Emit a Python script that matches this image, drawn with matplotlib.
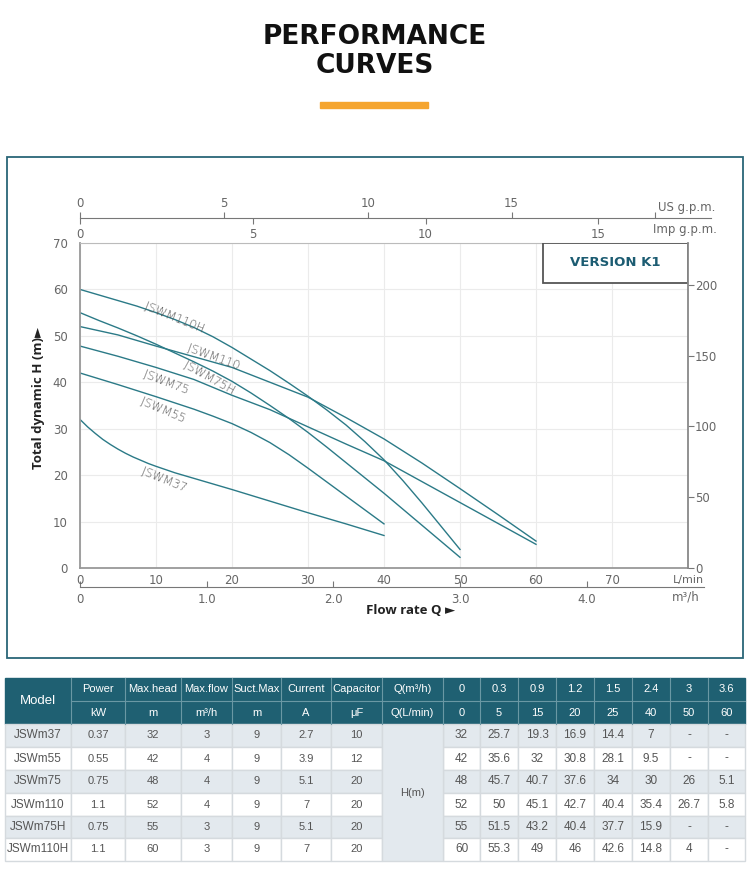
import matplotlib.pyplot as plt
from matplotlib.patches import Rectangle

# head curves: flow in L/min, head in m
q_37 = [0, 1, 2, 3, 4, 5, 6, 7, 8, 9, 10, 12.5, 15, 20, 25, 30, 35, 40]
h_37 = [32, 30.4, 29.0, 27.7, 26.6, 25.6, 24.7, 23.9, 23.2, 22.5, 21.9, 20.5,
        19.3, 16.9, 14.4, 11.9, 9.5, 7]
q_55 = [0, 5, 10, 15, 17.5, 20, 22.5, 25, 27.5, 30, 32.5, 35, 37.5, 40]
h_55 = [42, 39.5, 36.9, 34.2, 32.7, 31.1, 29.2, 27.0, 24.4, 21.5, 18.5, 15.5, 12.5, 9.5]
q_75 = [0, 5, 10, 15, 20, 25, 30, 35, 40, 45, 50, 55, 60]
h_75 = [47.8, 45.6, 43.2, 40.6, 37.2, 34.1, 30.4, 26.7, 23.1, 18.6, 14.1, 9.6, 5.1]
q_110 = [0, 5, 10, 15, 20, 25, 30, 35, 40, 45, 50, 55, 60]
h_110 = [52, 50.2, 47.8, 45.5, 43.2, 40, 36.8, 32.4, 27.8, 22.6, 17.1, 11.5, 5.8]
q_75h = [0, 2.5, 5, 7.5, 10, 12.5, 15, 17.5, 20, 22.5, 25, 27.5, 30, 32.5, 35,
         37.5, 40, 45, 50]
h_75h = [55, 53.3, 51.7, 50.0, 48.2, 46.3, 44.4, 42.4, 40.2, 37.7, 35.0, 32.2,
         29.2, 26.0, 22.7, 19.4, 16.1, 9.2, 2.3]
q_110h = [0, 2.5, 5, 7.5, 10, 12.5, 15, 17.5, 20, 22.5, 25, 27.5, 30, 32.5, 35,
          37.5, 40, 42.5, 45, 47.5, 50]
h_110h = [60, 58.8, 57.6, 56.4, 55, 53.5, 51.8, 49.8, 47.5, 45.0, 42.5, 39.8,
          37, 34, 30.8, 27.2, 23.3, 18.8, 14, 9.0, 4]

curve_names = ['JSWM37', 'JSWM55', 'JSWM75', 'JSWM110', 'JSWM75H', 'JSWM110H']

# table data
models = ['JSWm37', 'JSWm55', 'JSWm75', 'JSWm110', 'JSWm75H', 'JSWm110H']
power = ['0.37', '0.55', '0.75', '1.1', '0.75', '1.1']
max_head = ['32', '42', '48', '52', '55', '60']
max_flow = ['3', '4', '4', '4', '3', '3']
suct_max = ['9', '9', '9', '9', '9', '9']
current = ['2.7', '3.9', '5.1', '7', '5.1', '7']
capacitor = ['10', '12', '20', '20', '20', '20']
q_m3h = ['0', '0.3', '0.9', '1.2', '1.5', '2.4', '3', '3.6']
q_lmin = ['0', '5', '15', '20', '25', '40', '50', '60']
head_table = [
    ['32', '25.7', '19.3', '16.9', '14.4', '7', '-', '-'],
    ['42', '35.6', '32', '30.8', '28.1', '9.5', '-', '-'],
    ['48', '45.7', '40.7', '37.6', '34', '30', '26', '5.1'],
    ['52', '50', '45.1', '42.7', '40.4', '35.4', '26.7', '5.8'],
    ['55', '51.5', '43.2', '40.4', '37.7', '15.9', '-', '-'],
    ['60', '55.3', '49', '46', '42.6', '14.8', '4', '-'],
]
head_top = ['Power', 'Max.head', 'Max.flow', 'Suct.Max', 'Current', 'Capacitor', 'Q(m³/h)']
head_bot = ['kW', 'm', 'm³/h', 'm', 'A', 'μF', 'Q(L/min)']

teal = '#2B7A87'
grey = '#666666'

fig = plt.figure(figsize=(7.5, 8.74), dpi=100)
bg = fig.add_axes([0, 0, 1, 1])
bg.set_xlim(0, 750)
bg.set_ylim(874, 0)
bg.axis('off')

bg.text(375, 37, 'PERFORMANCE', ha='center', va='center', fontsize=19,
        fontweight='heavy', color='#111111')
bg.text(375, 66, 'CURVES', ha='center', va='center', fontsize=19,
        fontweight='heavy', color='#111111')
bg.add_patch(Rectangle((320, 102), 108, 6, color='#F5A52F'))
bg.add_patch(Rectangle((7, 157), 736, 501, fill=False, ec='#2A6677', lw=1.3))

# main chart
ax = fig.add_axes([80 / 750, 1 - 568 / 874, 608 / 750, 325 / 874])
ax.set_xlim(0, 80)
ax.set_ylim(0, 70)
ax.set_xticks(range(0, 81, 10))
ax.set_xticklabels([str(v) for v in range(0, 71, 10)] + [''])
ax.set_yticks(range(0, 71, 10))
ax.tick_params(length=0, labelsize=8.5, labelcolor=grey)
ax.tick_params(axis='y', pad=9)
ax.tick_params(axis='x', pad=4)
ax.grid(color='#EBEBEB', lw=0.8)
for s in ['left', 'bottom']:
    ax.spines[s].set_color('#999999')
    ax.spines[s].set_linewidth(1.3)
ax.spines['top'].set_color('#BBBBBB')
ax.spines['right'].set_visible(False)

curves = [(q_37, h_37), (q_55, h_55), (q_75, h_75),
          (q_110, h_110), (q_75h, h_75h), (q_110h, h_110h)]
for q, h in curves:
    ax.plot(q, h, color=teal, lw=1.0)

label_pos = {'JSWM110H': (12.4, 54.1, -22), 'JSWM110': (17.6, 45.5, -20),
             'JSWM75H': (17.0, 41.1, -29), 'JSWM75': (11.4, 40.0, -21),
             'JSWM55': (11.0, 34.0, -23), 'JSWM37': (11.05, 19.0, -22)}
for name in curve_names:
    x, y, r = label_pos[name]
    ax.text(x, y, name, rotation=r, rotation_mode='anchor', ha='center',
            va='center', fontsize=8.5, color='#555555', fontweight='light')

ax.add_patch(Rectangle((60.9, 61.4), 19.1, 8.6, fc='white', ec='#555555',
                       lw=1.3, zorder=3))
ax.text(70.4, 65.8, 'VERSION K1', ha='center', va='center', fontsize=9.5,
        fontweight='bold', color='#1C5C72', zorder=4,
        family=['Liberation Sans Narrow', 'DejaVu Sans'])

# feet on the right
axr = ax.twinx()
axr.set_ylim(0, 70 * 3.28084)
axr.set_yticks([0, 50, 100, 150, 200])
axr.tick_params(length=4, color='#777777', labelsize=8.5, labelcolor=grey, pad=1)
for s in ['left', 'top', 'bottom']:
    axr.spines[s].set_visible(False)
axr.spines['right'].set_color('#888888')
axr.spines['right'].set_linewidth(1.3)

# m3/h below
sec_m3 = ax.secondary_xaxis(-0.0585, functions=(lambda x: x * 0.06, lambda x: x / 0.06))
sec_m3.set_xticks([0, 1, 2, 3, 4])
sec_m3.set_xticklabels(['0', '1.0', '2.0', '3.0', '4.0'])
sec_m3.tick_params(direction='in', length=4, color='#777777', labelsize=8.5,
                   labelcolor=grey, pad=4)
sec_m3.spines['bottom'].set_color('#777777')
sec_m3.spines['bottom'].set_bounds(0, 4.926)

# gallons on top
sec_us = ax.secondary_xaxis(1.0769, functions=(lambda x: x / 3.78541, lambda x: x * 3.78541))
sec_us.set_xticks([0, 5, 10, 15, 20])
sec_us.set_xticklabels(['0', '5', '10', '15', ''])
sec_us.tick_params(direction='out', length=4, color='#777777', labelsize=8.5,
                   labelcolor=grey, pad=1.5)
sec_us.spines['top'].set_color('#777777')
sec_us.spines['top'].set_bounds(0, 83 / 3.78541)

sec_imp = ax.secondary_xaxis(1.0769, functions=(lambda x: x / 4.54609, lambda x: x * 4.54609))
sec_imp.set_alignment('bottom')
sec_imp.set_xticks([0, 5, 10, 15])
sec_imp.tick_params(direction='out', length=4, color='#777777', labelsize=8.5,
                    labelcolor=grey, pad=3)
sec_imp.spines['bottom'].set_visible(False)

bg.text(687, 207, 'US g.p.m.', ha='center', va='center', fontsize=8.5, color=grey)
bg.text(685, 230, 'Imp g.p.m.', ha='center', va='center', fontsize=8.5, color=grey)
bg.text(688, 580, 'L/min', ha='center', va='center', fontsize=8, color=grey)
bg.text(686, 597, 'm³/h', ha='center', va='center', fontsize=8.5, color=grey)

bg.text(39, 398, 'Total dynamic H (m)►', rotation=90, ha='center', va='center',
        fontsize=9.5, fontweight='bold', color='#222222',
        family=['Open Sans', 'DejaVu Sans'])
bg.text(411, 610, 'Flow rate Q ►', ha='center', va='center', fontsize=9.5,
        fontweight='bold', color='#222222', family=['Open Sans', 'DejaVu Sans'])

# table
col_edges = [5, 71, 125, 181, 232, 281, 331, 382, 443, 480, 518, 556, 594, 632, 670, 708, 745]
row_edges = [678, 701, 724, 747, 770, 793, 816, 838, 861]
head_c = '#1F6072'
line_c = '#D5DADE'
shade = '#E3E9EE'
tfont = ['Liberation Sans', 'DejaVu Sans']

bg.add_patch(Rectangle((col_edges[0], row_edges[0]), col_edges[-1] - col_edges[0],
                       row_edges[2] - row_edges[0], color=head_c))
for x in col_edges[1:-1]:
    bg.plot([x, x], [row_edges[0], row_edges[2]], color='#6A98A4', lw=0.8)
bg.plot([col_edges[1], col_edges[-1]], [row_edges[1], row_edges[1]], color='#6A98A4', lw=0.8)

def cx(i):
    return (col_edges[i] + col_edges[i + 1]) / 2

bg.text(cx(0), row_edges[1], 'Model', ha='center', va='center', fontsize=9.5,
        color='white', family=tfont)
tops = head_top + q_m3h
bots = head_bot + q_lmin
for i in range(len(tops)):
    bg.text(cx(i + 1), (row_edges[0] + row_edges[1]) / 2, tops[i], ha='center',
            va='center', fontsize=8, color='white', family=tfont)
    bg.text(cx(i + 1), (row_edges[1] + row_edges[2]) / 2, bots[i], ha='center',
            va='center', fontsize=8, color='white', family=tfont)

for r in range(len(models)):
    y0, y1 = row_edges[r + 2], row_edges[r + 3]
    fc = shade if r % 2 == 0 else 'white'
    cells = [models[r], power[r], max_head[r], max_flow[r], suct_max[r],
             current[r], capacitor[r], None] + head_table[r]
    for c, val in enumerate(cells):
        if c == 7:
            continue
        bg.add_patch(Rectangle((col_edges[c], y0), col_edges[c + 1] - col_edges[c],
                               y1 - y0, fc=fc, ec=line_c, lw=1))
        fs = 8.5 if c == 0 or c > 7 else 8
        bg.text(cx(c), (y0 + y1) / 2, val, ha='center', va='center', fontsize=fs,
                color='#555555', family=tfont)

bg.add_patch(Rectangle((col_edges[7], row_edges[2]), col_edges[8] - col_edges[7],
                       row_edges[-1] - row_edges[2], fc=shade, ec=line_c, lw=1))
bg.text(cx(7), (row_edges[2] + row_edges[-1]) / 2, 'H(m)', ha='center', va='center',
        fontsize=8, color='#555555', family=tfont)

fig.savefig('out.png', dpi=100)
